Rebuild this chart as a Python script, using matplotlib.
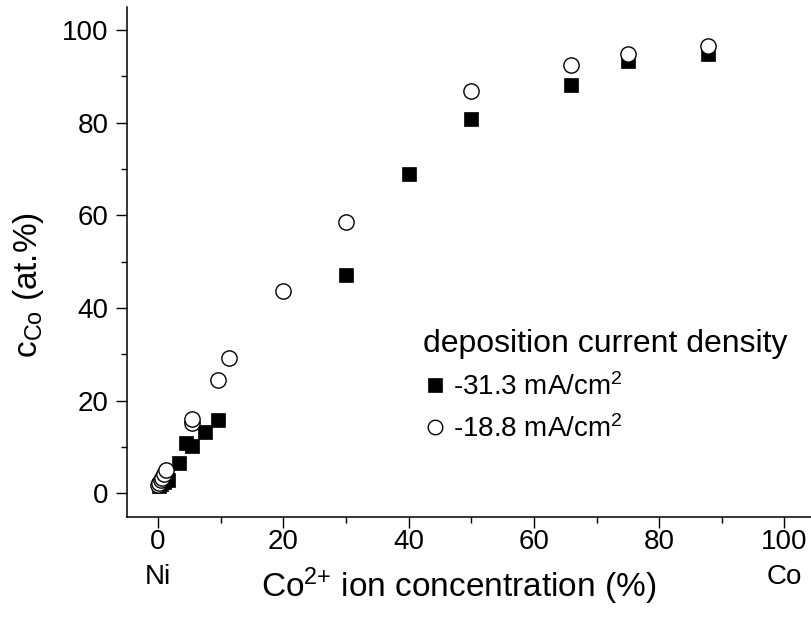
import matplotlib
matplotlib.use("Agg")
import matplotlib.pyplot as plt
from matplotlib.ticker import MultipleLocator

# -----------------------------
# DATA
# -----------------------------
# Co2+ ion concentration in the bath (%)
x_313 = [0.1, 0.5, 1.0, 1.6, 3.4, 4.4, 5.4, 7.5, 9.5, 30.0, 40.0, 50.0, 66.0, 75.0, 87.8]
# Co content of the deposit (at.%), -31.3 mA/cm2
y_313 = [1.5, 2.0, 2.5, 3.0, 6.5, 10.9, 10.3, 13.2, 15.8, 47.1, 69.0, 80.9, 88.2, 93.4, 94.8]

x_188 = [0.0, 0.2, 0.4, 0.6, 0.9, 1.2, 5.4, 5.5, 9.5, 11.4, 20.0, 30.0, 50.0, 66.0, 75.0, 87.8]
y_188 = [1.8, 2.3, 2.8, 3.4, 4.2, 5.0, 15.2, 16.0, 24.4, 29.3, 43.7, 58.6, 86.9, 92.4, 94.9, 96.5]

x_ticks = [0, 20, 40, 60, 80, 100]
x_ticklabels = ["0\nNi", "20", "40", "60", "80", "100\nCo"]
y_ticks = [0, 20, 40, 60, 80, 100]

# -----------------------------
# STYLE
# -----------------------------
plt.rcParams["font.family"] = ["Liberation Sans", "DejaVu Sans"]
plt.rcParams["mathtext.fontset"] = "custom"
plt.rcParams["mathtext.rm"] = "Liberation Sans"
plt.rcParams["mathtext.it"] = "Liberation Sans:italic"

fig = plt.figure(figsize=(8.12, 6.30), dpi=100)
ax = fig.add_axes([0.156, 0.180, 0.8487, 0.809])

# -----------------------------
# PLOT
# -----------------------------
ax.plot(x_313, y_313, linestyle="none", marker="s", markersize=10.6,
        markerfacecolor="black", markeredgecolor="black", markeredgewidth=0.5,
        label="-31.3 mA/cm$^{2}$")
ax.plot(x_188, y_188, linestyle="none", marker="o", markersize=11,
        markerfacecolor="white", markeredgecolor="black", markeredgewidth=1.0,
        label="-18.8 mA/cm$^{2}$")

ax.set_xlim(-5, 105)
ax.set_ylim(-5, 105)

ax.set_xticks(x_ticks)
ax.set_xticklabels(x_ticklabels)
ax.set_yticks(y_ticks)
ax.xaxis.set_minor_locator(MultipleLocator(10))
ax.yaxis.set_minor_locator(MultipleLocator(10))

ax.tick_params(which="major", direction="out", length=7.7, width=1.0, labelsize=20)
ax.tick_params(which="minor", direction="out", length=4.3, width=1.0)
ax.tick_params(axis="y", which="major", pad=5.5)
ax.tick_params(axis="x", which="major", pad=1)
for lbl in ax.get_xticklabels():
    lbl.set_linespacing(1.45)

ax.spines["top"].set_visible(False)
ax.spines["right"].set_visible(False)
ax.spines["left"].set_linewidth(1.1)
ax.spines["bottom"].set_linewidth(1.1)

ax.set_xlabel("Co$^{2{+}}$ ion concentration (%)", fontsize=24)
ax.set_ylabel("c$_{\\mathrm{Co}}$ (at.%)", fontsize=24)
ax.xaxis.set_label_coords(0.481, -0.095)
ax.yaxis.set_label_coords(-0.117, 0.455)

leg = ax.legend(
    title="deposition current density",
    title_fontsize=23,
    fontsize=20,
    frameon=False,
    loc="upper left",
    bbox_to_anchor=(0.41, 0.395),
    borderpad=0,
    handlelength=0.86,
    handletextpad=0.2,
    labelspacing=0.5,
    markerscale=0.95,
    alignment="left",
)

fig.savefig("out.png", dpi=100)
